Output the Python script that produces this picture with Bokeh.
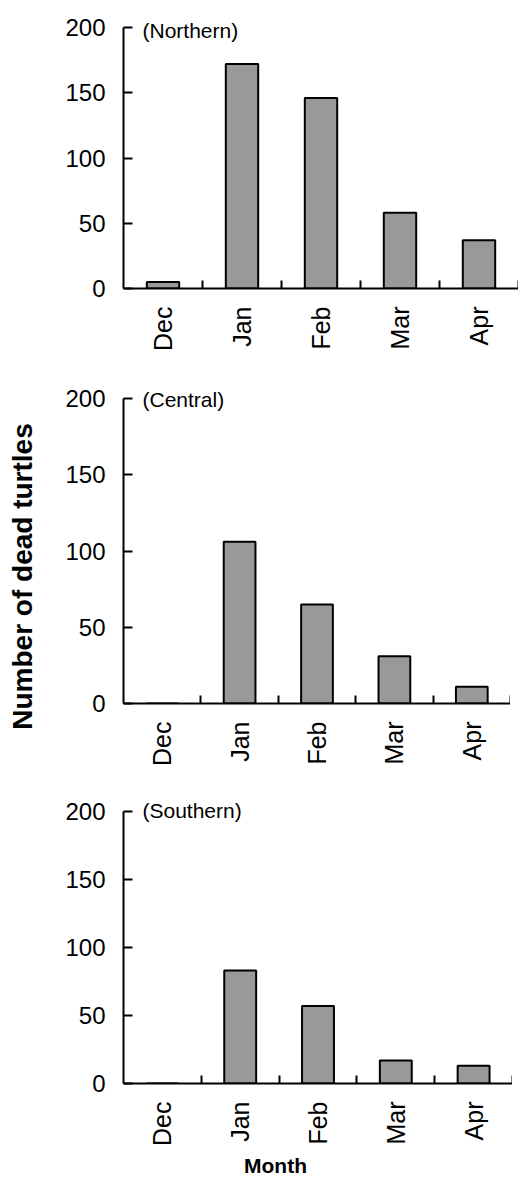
from math import pi
from bokeh.plotting import figure
from bokeh.layouts import column, row
from bokeh.models import Range1d, FixedTicker, Label
from bokeh.embed import file_html
from bokeh.resources import INLINE

months = ["Dec", "Jan", "Feb", "Mar", "Apr"]
regions = ["(Northern)", "(Central)", "(Southern)"]
northern = [5, 172, 146, 58, 37]
central = [0, 106, 65, 31, 11]
southern = [0, 83, 57, 17, 13]
y_ticks = [0, 50, 100, 150, 200]
y_title = "Number of dead turtles"
x_title = "Month"

FONT = "Liberation Sans"
PAD = 14  # px of empty frame above the 200 line (room for region label)


def make_panel(values, region, frame_w, frame_h, left, top, bottom, reg_dx, reg_dy):
    n = len(months)
    ymax = max(y_ticks)
    centers = [i + 0.5 for i in range(n)]
    bounds = [i + 1 for i in range(n)]
    y_end = ymax * (frame_h + PAD) / frame_h
    p = figure(frame_width=frame_w, frame_height=frame_h + PAD,
               min_border_left=left, min_border_right=0,
               min_border_top=top, min_border_bottom=bottom,
               x_range=Range1d(0, n), y_range=Range1d(0, y_end),
               output_backend="svg", toolbar_location=None, tools="")
    p.outline_line_color = None
    p.background_fill_color = "white"
    p.border_fill_color = "white"
    p.xgrid.visible = False
    p.ygrid.visible = False

    p.vbar(x=centers, top=values, bottom=0, width=0.41,
           fill_color="#999999", line_color="black", line_width=2)

    xa = p.xaxis[0]
    xa.ticker = FixedTicker(ticks=centers, minor_ticks=bounds)
    xa.major_label_overrides = {c: m for c, m in zip(centers, months)}
    xa.major_label_orientation = pi / 2
    xa.major_tick_in = 0
    xa.major_tick_out = 0
    xa.minor_tick_in = 8
    xa.minor_tick_out = 0
    xa.minor_tick_line_width = 2
    xa.minor_tick_line_color = "black"
    xa.axis_line_width = 2
    xa.axis_line_color = "black"
    xa.major_label_standoff = 18
    xa.major_label_text_font = FONT
    xa.major_label_text_font_size = "25px"
    xa.major_label_text_color = "black"

    ya = p.yaxis[0]
    ya.ticker = FixedTicker(ticks=y_ticks)
    ya.bounds = (0, ymax)
    ya.major_tick_in = 9
    ya.major_tick_out = 0
    ya.major_tick_line_width = 2
    ya.major_tick_line_color = "black"
    ya.minor_tick_line_color = None
    ya.axis_line_width = 2
    ya.axis_line_color = "black"
    ya.major_label_standoff = 18
    ya.major_label_text_font = FONT
    ya.major_label_text_font_size = "24px"
    ya.major_label_text_color = "black"

    p.add_layout(Label(x=0, y=ymax, x_offset=reg_dx, y_offset=reg_dy,
                       text=region, text_font=FONT, text_font_size="21px",
                       text_color="black", text_align="left",
                       text_baseline="middle"))
    return p


def text_fig(w, h):
    f = figure(width=w, height=h, x_range=Range1d(0, w), y_range=Range1d(0, h),
               x_axis_location=None, y_axis_location=None,
               min_border=0, min_border_left=0, min_border_right=0,
               min_border_top=0, min_border_bottom=0,
               output_backend="svg", toolbar_location=None, tools="")
    f.xgrid.visible = False
    f.ygrid.visible = False
    f.outline_line_color = None
    f.background_fill_color = "white"
    f.border_fill_color = "white"
    return f


p1 = make_panel(northern, regions[0], 395, 261, 83, 13, 90, 19, -3)
p2 = make_panel(central, regions[1], 387, 305, 83, 6, 88, 19, -1)
p3 = make_panel(southern, regions[2], 389, 272, 83, 6, 67, 19, 1)

left = text_fig(40, 1150)
left.add_layout(Label(x=22, y=574, angle=pi / 2,
                      text=y_title, text_font=FONT, text_font_style="bold",
                      text_font_size="28px", text_color="black",
                      text_align="center", text_baseline="middle"))

bottom = text_fig(520, 28)
bottom.add_layout(Label(x=275, y=13,
                        text=x_title, text_font=FONT, text_font_style="bold",
                        text_font_size="21px", text_color="black",
                        text_align="center", text_baseline="middle"))

panels = column(p1, p2, p3, spacing=0)
layout = column(row(left, panels, spacing=0), bottom, spacing=0)
open("out.html", "w").write(file_html(layout, INLINE))
